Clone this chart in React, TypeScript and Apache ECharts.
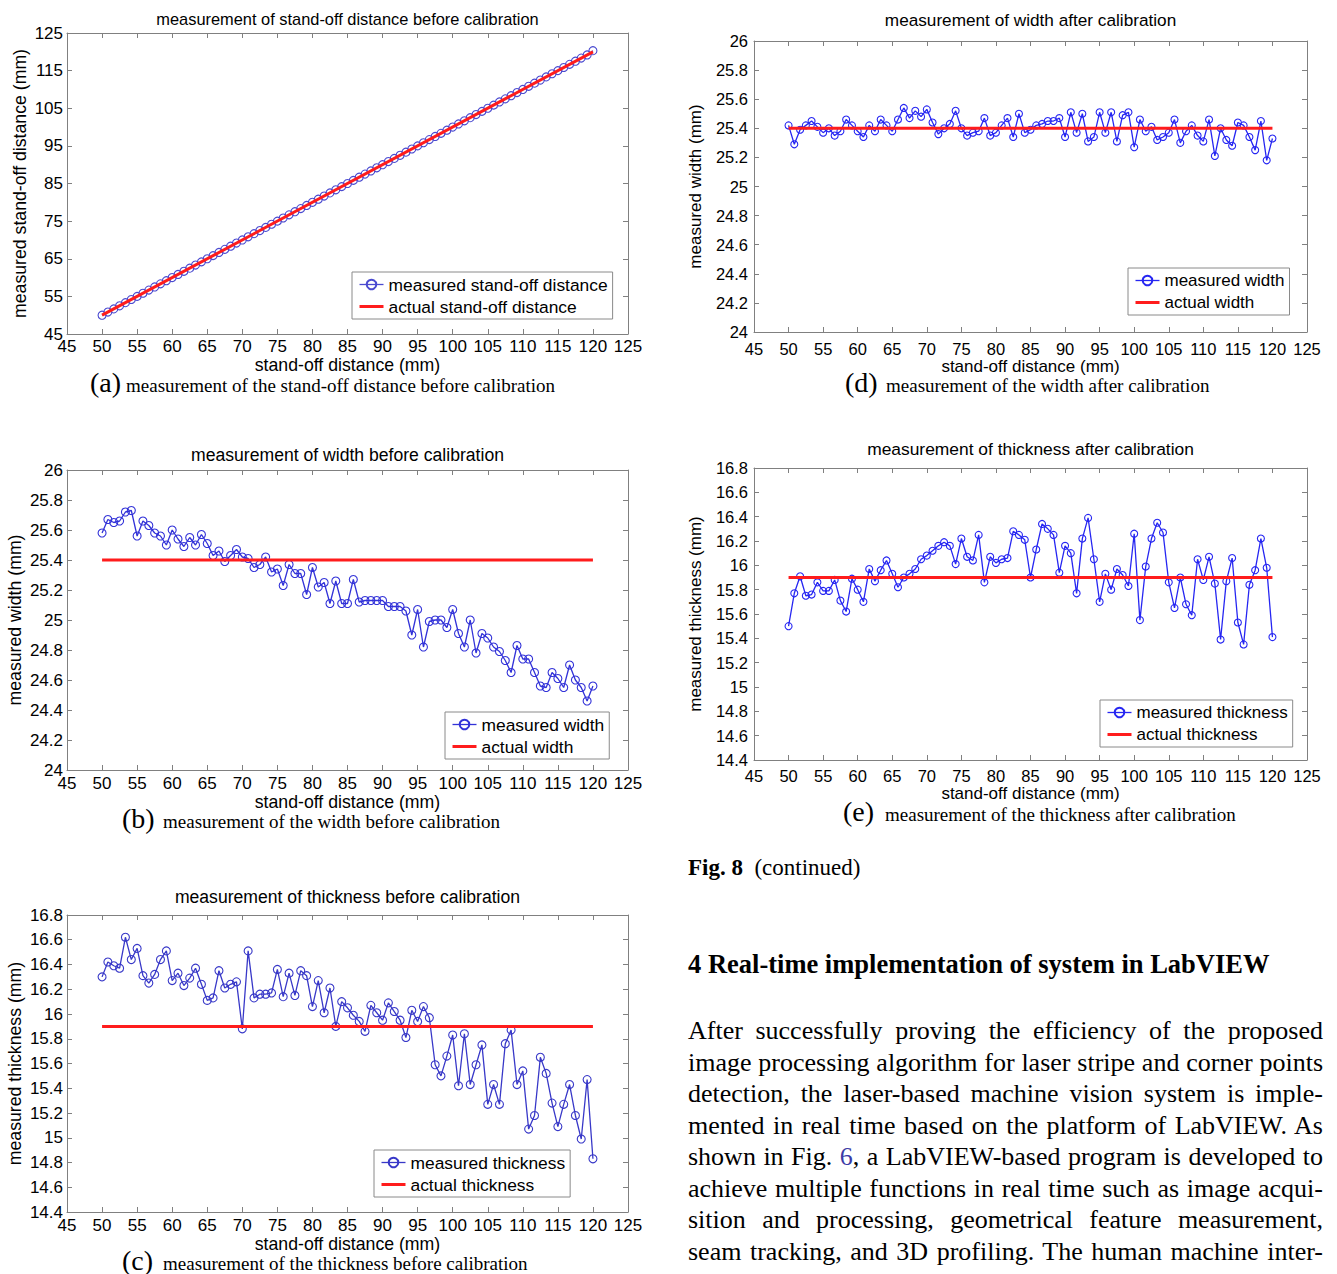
import React, { useEffect, useRef } from 'react';
import * as echarts from 'echarts';

// ---------- data ----------
const STANDOFF_MM = [
  50, 50.83, 51.67, 52.5, 53.33, 54.17, 55, 55.83, 56.67, 57.5, 58.33, 59.17, 60, 60.83, 61.67, 62.5, 63.33,
  64.17, 65, 65.83, 66.67, 67.5, 68.33, 69.17, 70, 70.83, 71.67, 72.5, 73.33, 74.17, 75, 75.83, 76.67, 77.5,
  78.33, 79.17, 80, 80.83, 81.67, 82.5, 83.33, 84.17, 85, 85.83, 86.67, 87.5, 88.33, 89.17, 90, 90.83, 91.67,
  92.5, 93.33, 94.17, 95, 95.83, 96.67, 97.5, 98.33, 99.17, 100, 100.83, 101.67, 102.5, 103.33, 104.17, 105,
  105.83, 106.67, 107.5, 108.33, 109.17, 110, 110.83, 111.67, 112.5, 113.33, 114.17, 115, 115.83, 116.67,
  117.5, 118.33, 119.17, 120,
];

const MEASURED_STANDOFF = [
  50, 50.83, 51.67, 52.5, 53.33, 54.17, 55, 55.83, 56.67, 57.5, 58.33, 59.17, 60, 60.83, 61.67, 62.5, 63.33,
  64.17, 65, 65.83, 66.67, 67.5, 68.33, 69.17, 70, 70.83, 71.67, 72.5, 73.33, 74.17, 75, 75.83, 76.67, 77.5,
  78.33, 79.17, 80, 80.83, 81.67, 82.5, 83.33, 84.17, 85, 85.83, 86.67, 87.5, 88.33, 89.17, 90, 90.83, 91.67,
  92.5, 93.33, 94.17, 95, 95.83, 96.67, 97.5, 98.33, 99.17, 100, 100.83, 101.67, 102.5, 103.33, 104.17, 105,
  105.83, 106.67, 107.5, 108.33, 109.17, 110, 110.83, 111.67, 112.5, 113.33, 114.17, 115, 115.83, 116.67,
  117.5, 118.33, 119.17, 120.3,
];
const ACTUAL_STANDOFF_X = [50, 120];
const ACTUAL_STANDOFF_Y = [50, 120];

const MEASURED_WIDTH_BEFORE = [
  25.58, 25.67, 25.65, 25.66, 25.72, 25.73, 25.56, 25.66, 25.63, 25.58, 25.56, 25.5, 25.6, 25.54, 25.49, 25.55,
  25.5, 25.57, 25.51, 25.43, 25.46, 25.39, 25.43, 25.47, 25.42, 25.41, 25.35, 25.37, 25.42, 25.32, 25.34, 25.23,
  25.37, 25.31, 25.31, 25.17, 25.35, 25.22, 25.25, 25.11, 25.26, 25.11, 25.11, 25.27, 25.12, 25.13, 25.13, 25.13,
  25.13, 25.09, 25.09, 25.09, 25.06, 24.9, 25.07, 24.82, 24.99, 25.0, 25.0, 24.95, 25.07, 24.91, 24.82, 25.0,
  24.78, 24.91, 24.88, 24.82, 24.79, 24.73, 24.65, 24.83, 24.74, 24.74, 24.65, 24.56, 24.55, 24.65, 24.61, 24.55,
  24.7, 24.6, 24.55, 24.46, 24.56,
];

const MEASURED_THICKNESS_BEFORE = [
  16.3, 16.42, 16.39, 16.37, 16.62, 16.44, 16.53, 16.31, 16.25, 16.32, 16.44, 16.51, 16.27, 16.33, 16.23, 16.29,
  16.37, 16.24, 16.11, 16.13, 16.35, 16.21, 16.24, 16.26, 15.88, 16.51, 16.13, 16.16, 16.16, 16.17, 16.36, 16.14,
  16.33, 16.15, 16.35, 16.31, 16.06, 16.27, 16.01, 16.21, 15.9, 16.1, 16.05, 15.99, 15.94, 15.86, 16.07, 16.01,
  15.95, 16.09, 16.02, 15.95, 15.81, 16.03, 15.94, 16.06, 15.97, 15.59, 15.5, 15.66, 15.83, 15.42, 15.84, 15.43,
  15.59, 15.75, 15.27, 15.43, 15.27, 15.76, 15.87, 15.43, 15.54, 15.07, 15.18, 15.65, 15.52, 15.28, 15.09, 15.27,
  15.43, 15.18, 14.99, 15.47, 14.83,
];

const MEASURED_WIDTH_AFTER = [
  25.42, 25.29, 25.39, 25.42, 25.45, 25.41, 25.37, 25.4, 25.35, 25.38, 25.46, 25.42, 25.38, 25.34, 25.42, 25.38,
  25.46, 25.42, 25.38, 25.46, 25.54, 25.47, 25.52, 25.48, 25.53, 25.44, 25.36, 25.4, 25.43, 25.52, 25.4, 25.35,
  25.37, 25.38, 25.47, 25.35, 25.37, 25.42, 25.47, 25.34, 25.5, 25.37, 25.39, 25.42, 25.43, 25.45, 25.45, 25.47,
  25.34, 25.51, 25.37, 25.5, 25.31, 25.34, 25.51, 25.37, 25.51, 25.31, 25.49, 25.51, 25.27, 25.46, 25.38, 25.41,
  25.32, 25.34, 25.37, 25.46, 25.3, 25.38, 25.42, 25.35, 25.31, 25.46, 25.21, 25.4, 25.32, 25.28, 25.44, 25.42,
  25.34, 25.25, 25.45, 25.18, 25.33,
];

const MEASURED_THICKNESS_AFTER = [
  15.5, 15.77, 15.91, 15.75, 15.76, 15.86, 15.79, 15.79, 15.88, 15.71, 15.62, 15.89, 15.8, 15.7, 15.97, 15.87,
  15.96, 16.04, 15.93, 15.82, 15.9, 15.93, 15.97, 16.05, 16.08, 16.12, 16.16, 16.19, 16.16, 16.01, 16.22, 16.07,
  16.04, 16.25, 15.86, 16.07, 16.02, 16.05, 16.06, 16.28, 16.25, 16.21, 15.9, 16.13, 16.34, 16.3, 16.25, 15.94,
  16.16, 16.1, 15.77, 16.22, 16.39, 16.05, 15.7, 15.93, 15.8, 15.97, 15.92, 15.83, 16.26, 15.55, 15.99, 16.22,
  16.35, 16.27, 15.86, 15.65, 15.9, 15.68, 15.59, 16.05, 15.88, 16.07, 15.85, 15.39, 15.87, 16.06, 15.53, 15.35,
  15.84, 15.96, 16.22, 15.98, 15.41,
];

const ACTUAL_LINE_X = [50, 120];
const ACTUAL_WIDTH_Y = [25.4, 25.4];
const ACTUAL_THICKNESS_Y = [15.9, 15.9];

const X_MIN = 45;
const X_MAX = 125;
const X_STEP = 5;

// ---------- styles ----------
const SANS = '"Liberation Sans", Arial, Helvetica, sans-serif';
const SERIF = '"Liberation Serif", "Times New Roman", Times, serif';
const AXIS_GRAY = '#808080';
const RED = '#ff1c1c';

type Panel = {
  id: string;
  title: string;
  titleY: number;
  titleFs: number;
  yName: string;
  measuredName: string;
  actualName: string;
  measured: number[];
  actualX: number[];
  actualY: number[];
  yMin: number;
  yMax: number;
  yStep: number;
  grid: { left: number; top: number; width: number; height: number };
  yLabelMargin: number;
  yNameGap: number;
  xLabelMargin: number;
  xNameGap: number;
  legend: { left: number; top: number };
  legendFs: number;
  blue: string;
  fs: number;
  nameFs: number;
  symbolSize: number;
  caption: { tag: string; text: string; tagX: number; textX: number; y: number };
};

const PANELS: Panel[] = [
  {
    id: 'a', title: 'measurement of stand-off distance before calibration', titleY: 19, titleFs: 16.4,
    yName: 'measured stand-off distance (mm)', measuredName: 'measured stand-off distance',
    actualName: 'actual stand-off distance', measured: MEASURED_STANDOFF, actualX: ACTUAL_STANDOFF_X,
    actualY: ACTUAL_STANDOFF_Y, yMin: 45, yMax: 125, yStep: 10,
    grid: { left: 67, top: 33, width: 561, height: 301 }, yLabelMargin: 4, yNameGap: 38,
    xLabelMargin: 4, xNameGap: 17, legend: { left: 352, top: 272 }, legendFs: 17.4, blue: '#4a4ad0',
    fs: 17, nameFs: 17.7, symbolSize: 8,
    caption: { tag: '(a)', text: 'measurement of the stand-off distance before calibration', tagX: 90, textX: 126, y: 384 },
  },
  {
    id: 'b', title: 'measurement of width before calibration', titleY: 455, titleFs: 17.6,
    yName: 'measured width (mm)', measuredName: 'measured width', actualName: 'actual width',
    measured: MEASURED_WIDTH_BEFORE, actualX: ACTUAL_LINE_X, actualY: ACTUAL_WIDTH_Y,
    yMin: 24, yMax: 26, yStep: 0.2,
    grid: { left: 67, top: 470, width: 561, height: 300 }, yLabelMargin: 4, yNameGap: 43,
    xLabelMargin: 5, xNameGap: 21, legend: { left: 445, top: 712 }, legendFs: 17.4, blue: '#3232d8',
    fs: 17, nameFs: 17.7, symbolSize: 8,
    caption: { tag: '(b)', text: 'measurement of the width before calibration', tagX: 122, textX: 163, y: 820 },
  },
  {
    id: 'c', title: 'measurement of thickness before calibration', titleY: 897, titleFs: 17.6,
    yName: 'measured thickness (mm)', measuredName: 'measured thickness', actualName: 'actual thickness',
    measured: MEASURED_THICKNESS_BEFORE, actualX: ACTUAL_LINE_X, actualY: ACTUAL_THICKNESS_Y,
    yMin: 14.4, yMax: 16.8, yStep: 0.2,
    grid: { left: 67, top: 915, width: 561, height: 297 }, yLabelMargin: 4, yNameGap: 43,
    xLabelMargin: 5, xNameGap: 21, legend: { left: 374, top: 1150 }, legendFs: 17.4, blue: '#3838c8',
    fs: 17, nameFs: 17.7, symbolSize: 8,
    caption: { tag: '(c)', text: 'measurement of the thickness before calibration', tagX: 122, textX: 163, y: 1262 },
  },
  {
    id: 'd', title: 'measurement of width after calibration', titleY: 20, titleFs: 17.2,
    yName: 'measured width (mm)', measuredName: 'measured width', actualName: 'actual width',
    measured: MEASURED_WIDTH_AFTER, actualX: ACTUAL_LINE_X, actualY: ACTUAL_WIDTH_Y,
    yMin: 24, yMax: 26, yStep: 0.2,
    grid: { left: 754, top: 41, width: 553, height: 291 }, yLabelMargin: 6, yNameGap: 50,
    xLabelMargin: 8, xNameGap: 25, legend: { left: 1128, top: 268 }, legendFs: 17, blue: '#2626f2',
    fs: 16.5, nameFs: 17, symbolSize: 7,
    caption: { tag: '(d)', text: 'measurement of the width after calibration', tagX: 845, textX: 886, y: 384 },
  },
  {
    id: 'e', title: 'measurement of thickness after calibration', titleY: 449, titleFs: 17.4,
    yName: 'measured thickness (mm)', measuredName: 'measured thickness', actualName: 'actual thickness',
    measured: MEASURED_THICKNESS_AFTER, actualX: ACTUAL_LINE_X, actualY: ACTUAL_THICKNESS_Y,
    yMin: 14.4, yMax: 16.8, yStep: 0.2,
    grid: { left: 754, top: 468, width: 553, height: 292 }, yLabelMargin: 6, yNameGap: 50,
    xLabelMargin: 7, xNameGap: 24, legend: { left: 1100, top: 700 }, legendFs: 17, blue: '#2626f2',
    fs: 16.5, nameFs: 17, symbolSize: 7,
    caption: { tag: '(e)', text: 'measurement of the thickness after calibration', tagX: 843, textX: 885, y: 813 },
  },
];

const PARAGRAPH_LINES = [
  'After successfully proving the efficiency of the proposed',
  'image processing algorithm for laser stripe and corner points',
  'detection, the laser-based machine vision system is imple-',
  'mented in real time based on the platform of LabVIEW. As',
  'SHOWN_FIG6',
  'achieve multiple functions in real time such as image acqui-',
  'sition and processing, geometrical feature measurement,',
  'seam tracking, and 3D profiling. The human machine inter-',
];

function fmt(v: number) {
  return String(Math.round(v * 10) / 10);
}

function buildOption() {
  const grid: any[] = [];
  const xAxis: any[] = [];
  const yAxis: any[] = [];
  const series: any[] = [];
  const legend: any[] = [];
  const graphic: any[] = [];
  const names: Record<string, string> = {};

  PANELS.forEach((p, k) => {
    grid.push({ ...p.grid, containLabel: false });
    const line = { show: true, onZero: false, lineStyle: { color: AXIS_GRAY, width: 1 } };
    const tick = { show: true, inside: true, length: 5, lineStyle: { color: AXIS_GRAY, width: 1 } };
    const textBase = { color: '#000', fontFamily: SANS, fontSize: p.fs };
    const nameBase = { color: '#000', fontFamily: SANS, fontSize: p.nameFs };
    xAxis.push({
      gridIndex: k, type: 'value', position: 'bottom', min: X_MIN, max: X_MAX, interval: X_STEP,
      axisLine: line, axisTick: tick, splitLine: { show: false },
      axisLabel: { ...textBase, margin: p.xLabelMargin, showMinLabel: true, showMaxLabel: true },
      name: 'stand-off distance (mm)', nameLocation: 'middle', nameGap: p.xNameGap, nameTextStyle: nameBase,
    });
    xAxis.push({
      gridIndex: k, type: 'value', position: 'top', min: X_MIN, max: X_MAX, interval: X_STEP,
      axisLine: line, axisTick: tick, splitLine: { show: false }, axisLabel: { show: false },
    });
    yAxis.push({
      gridIndex: k, type: 'value', position: 'left', min: p.yMin, max: p.yMax, interval: p.yStep,
      axisLine: line, axisTick: tick, splitLine: { show: false },
      axisLabel: { ...textBase, margin: p.yLabelMargin, formatter: fmt, showMinLabel: true, showMaxLabel: true },
      name: p.yName, nameLocation: 'middle', nameGap: p.yNameGap, nameTextStyle: nameBase,
    });
    yAxis.push({
      gridIndex: k, type: 'value', position: 'right', min: p.yMin, max: p.yMax, interval: p.yStep,
      axisLine: line, axisTick: tick, splitLine: { show: false }, axisLabel: { show: false },
    });

    const mId = p.measuredName + '#' + p.id;
    const aId = p.actualName + '#' + p.id;
    names[mId] = p.measuredName;
    names[aId] = p.actualName;

    series.push({
      type: 'line', name: mId, xAxisIndex: 2 * k, yAxisIndex: 2 * k,
      data: STANDOFF_MM.map((x, i) => [x, p.measured[i]]),
      symbol: 'circle', symbolSize: p.symbolSize, showSymbol: true, showAllSymbol: true,
      lineStyle: { color: p.blue, width: 1.3 },
      itemStyle: { color: 'rgba(255,255,255,0)', borderColor: p.blue, borderWidth: 1.1 },
      silent: true, z: 2,
    });
    series.push({
      type: 'line', name: aId, xAxisIndex: 2 * k, yAxisIndex: 2 * k,
      data: p.actualX.map((x, i) => [x, p.actualY[i]]),
      symbol: 'none', lineStyle: { color: RED, width: 3 },
      itemStyle: { color: 'rgba(0,0,0,0)', borderColor: 'rgba(0,0,0,0)', borderWidth: 0 },
      silent: true, z: 3,
    });

    legend.push({
      data: [
        { name: mId, lineStyle: { color: p.blue, width: 1.3 } },
        { name: aId, lineStyle: { color: RED, width: 3 } },
      ],
      orient: 'vertical', left: p.legend.left, top: p.legend.top,
      padding: [4, 5, 4, 6], itemGap: 5, itemWidth: 24, itemHeight: 12,
      backgroundColor: '#fff', borderColor: '#8a8a8a', borderWidth: 1, borderRadius: 0,
      textStyle: { color: '#000', fontFamily: SANS, fontSize: p.legendFs },
      formatter: (n: string) => names[n], selectedMode: false,
    });

    const cx = p.grid.left + p.grid.width / 2;
    graphic.push({
      type: 'text', x: cx, y: p.titleY,
      style: {
        text: p.title, font: `${p.titleFs}px ${SANS}`, fill: '#000',
        align: 'center', verticalAlign: 'middle', textAlign: 'center', textVerticalAlign: 'middle',
      },
    });
    graphic.push({
      type: 'text', x: p.caption.tagX, y: p.caption.y - 2,
      style: {
        text: p.caption.tag, font: `28px ${SERIF}`, fill: '#000',
        align: 'left', verticalAlign: 'middle', textAlign: 'left', textVerticalAlign: 'middle',
      },
    });
    graphic.push({
      type: 'text', x: p.caption.textX, y: p.caption.y + 1,
      style: {
        text: p.caption.text, font: `19px ${SERIF}`, fill: '#000',
        align: 'left', verticalAlign: 'middle', textAlign: 'left', textVerticalAlign: 'middle',
      },
    });
  });

  return {
    animation: false,
    backgroundColor: '#fff',
    grid, xAxis, yAxis, series, legend, graphic,
  };
}

export default function App() {
  const ref = useRef<HTMLDivElement>(null);
  useEffect(() => {
    if (!ref.current) return;
    const chart = echarts.init(ref.current, undefined, { renderer: 'svg' });
    chart.setOption(buildOption() as any);
    return () => chart.dispose();
  }, []);

  const lineStyle: React.CSSProperties = {
    textAlign: 'justify',
    textAlignLast: 'justify' as any,
    height: 31.5,
    lineHeight: '31.5px',
    whiteSpace: 'normal',
  };

  return (
    <div style={{ position: 'absolute', left: 0, top: 0, width: 1337, height: 1274, background: '#fff', overflow: 'hidden' }}>
      <div ref={ref} style={{ position: 'absolute', left: 0, top: 0, width: 1337, height: 1274 }} />
      <div style={{ position: 'absolute', left: 688, top: 854, fontFamily: SERIF, fontSize: 23, lineHeight: '28px', color: '#000', whiteSpace: 'nowrap' }}>
        <span style={{ fontWeight: 'bold' }}>Fig. 8</span>{'\u00a0\u00a0(continued)'}
      </div>
      <div style={{ position: 'absolute', left: 688, top: 948, fontFamily: SERIF, fontSize: 26.5, fontWeight: 'bold', lineHeight: '32px', color: '#000', whiteSpace: 'nowrap' }}>
        4 Real-time implementation of system in LabVIEW
      </div>
      <div style={{ position: 'absolute', left: 688, top: 1015, width: 635, fontFamily: SERIF, fontSize: 26, color: '#000' }}>
        {PARAGRAPH_LINES.map((l, i) =>
          l === 'SHOWN_FIG6' ? (
            <div key={i} style={lineStyle}>
              shown in Fig. <span style={{ color: '#3b3ba6' }}>6</span>, a LabVIEW-based program is developed to
            </div>
          ) : (
            <div key={i} style={lineStyle}>{l}</div>
          )
        )}
      </div>
    </div>
  );
}
